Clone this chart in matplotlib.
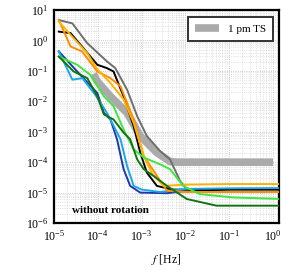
import numpy as np
import matplotlib
matplotlib.use("Agg")
import matplotlib.pyplot as plt
from matplotlib.ticker import LogLocator, NullFormatter

plt.rcParams['font.family'] = ['Liberation Serif', 'DejaVu Serif']
plt.rcParams['mathtext.fontset'] = 'stix'

# --- data (log10 of frequency [Hz] and log10 of PSD) ---
ts_logf = [-4.10, -4.01, -3.71, -3.33, -3.03, -2.65, -2.35, -2.20, 0.0]
ts_logy = [-1.10, -1.35, -1.84, -2.38, -3.14, -3.69, -3.98, -4.00, -4.00]

dgray_logf = [-4.89, -4.58, -4.24, -3.79, -3.60, -3.33, -3.10, -2.88, -2.58, -2.35, -2.12, -1.97, -1.5, -1.0, -0.5, 0.2]
dgray_logy = [0.67, 0.56, -0.09, -0.69, -0.91, -1.62, -2.49, -3.14, -3.63, -3.91, -4.62, -4.89, -4.92, -4.90, -4.90, -4.90]

black_logf = [-4.89, -4.62, -4.01, -3.79, -3.64, -3.41, -3.18, -3.03, -2.88, -2.65, -2.3, -1.5, -1.0, -0.5, 0.2]
black_logy = [0.29, 0.24, -0.80, -0.91, -1.02, -1.84, -2.82, -3.69, -4.34, -4.78, -4.90, -4.92, -4.90, -4.90, -4.90]

dorange_logf = [-4.89, -4.62, -4.36, -4.01, -3.71, -3.48, -3.18, -2.95, -2.65, -2.42, -2.0, -1.0, 0.2]
dorange_logy = [0.67, -0.20, -0.36, -1.02, -1.24, -1.51, -2.60, -3.80, -4.45, -4.94, -4.98, -4.98, -4.98]

gold_logf = [-4.89, -4.60, -4.24, -4.01, -3.71, -3.41, -3.18, -2.95, -2.75, -2.50, -2.0, -1.0, 0.2]
gold_logy = [0.62, 0.15, -0.42, -0.95, -1.40, -1.94, -2.71, -3.80, -4.40, -4.78, -4.74, -4.72, -4.72]

blue_logf = [-4.89, -4.47, -4.01, -3.86, -3.71, -3.56, -3.41, -3.26, -3.03, -2.42, -2.0]
blue_logy = [-0.36, -1.02, -1.73, -2.38, -2.60, -3.25, -4.23, -4.78, -5.00, -5.02, -4.95]

lblue_logf = [-4.89, -4.58, -4.35, -4.05, -3.79, -3.48, -3.33, -3.18, -3.00, -2.58, -2.0, -1.0, 0.2]
lblue_logy = [-0.36, -1.29, -1.24, -1.80, -2.38, -3.25, -4.13, -4.78, -4.90, -4.98, -4.88, -4.86, -4.85]

green_logf = [-4.89, -4.47, -4.17, -3.86, -3.64, -3.41, -3.18, -2.95, -2.58, -2.35, -2.05, -1.67, -0.91, 0.2]
green_logy = [-0.53, -0.80, -1.13, -1.84, -2.16, -2.93, -3.58, -3.85, -4.07, -4.23, -4.78, -5.05, -5.16, -5.21]

dgreen_logf = [-4.89, -4.55, -4.24, -4.01, -3.86, -3.64, -3.41, -3.26, -3.10, -2.95, -2.73, -2.42, -1.97, -1.29, 0.2]
dgreen_logy = [-0.53, -1.02, -1.24, -1.84, -2.43, -2.60, -3.03, -3.25, -3.91, -4.23, -4.45, -4.78, -5.21, -5.43, -5.43]

series = [
    (dgray_logf, dgray_logy, '#6e6e6e'),
    (black_logf, black_logy, '#000000'),
    (blue_logf, blue_logy, '#1c3aa8'),
    (lblue_logf, lblue_logy, '#1aa6ea'),
    (dorange_logf, dorange_logy, '#ff8c00'),
    (gold_logf, gold_logy, '#ffb300'),
    (green_logf, green_logy, '#3fe63f'),
    (dgreen_logf, dgreen_logy, '#107510'),
]

fig = plt.figure(figsize=(2.87, 2.70), dpi=100)
ax = fig.add_axes([0.188, 0.174, 0.784, 0.789])

ax.plot(10**np.array(ts_logf), 10**np.array(ts_logy), color='#aaaaaa', lw=5.5,
        solid_capstyle='butt', label='1 pm TS', zorder=2)
for lf, ly, c in series:
    ax.plot(10**np.array(lf), 10**np.array(ly), color=c, lw=1.4, zorder=3)

ax.set_xscale('log')
ax.set_yscale('log')
ax.set_xlim(1e-5, 1.37)
ax.set_ylim(1e-6, 1e1)
ax.xaxis.set_major_locator(LogLocator(base=10, numticks=10))
ax.yaxis.set_major_locator(LogLocator(base=10, numticks=10))
ax.xaxis.set_minor_locator(LogLocator(base=10, subs=np.arange(2, 10), numticks=20))
ax.yaxis.set_minor_locator(LogLocator(base=10, subs=np.arange(2, 10), numticks=20))
ax.xaxis.set_minor_formatter(NullFormatter())
ax.yaxis.set_minor_formatter(NullFormatter())
ax.grid(True, which='major', color='#bbbbbb', ls=':', lw=0.6)
ax.grid(True, which='minor', color='#cccccc', ls=':', lw=0.5)
ax.tick_params(which='both', direction='in', length=0, labelsize=8.5, pad=4)
for s in ax.spines.values():
    s.set_linewidth(1.6)

ax.set_xlabel(r'$f$ [Hz]', fontsize=8.5, labelpad=6)
ax.text(0.08, 0.06, 'without rotation', transform=ax.transAxes, fontsize=8,
        fontweight='bold', va='center', ha='left')

leg = ax.legend(loc='upper right', fontsize=8, fancybox=False, framealpha=1,
                edgecolor='#333333', handlelength=2.2, borderpad=0.6,
                borderaxespad=0, bbox_to_anchor=(0.972, 0.965))
leg.get_frame().set_linewidth(1.4)

fig.savefig('out.png', dpi=100)
